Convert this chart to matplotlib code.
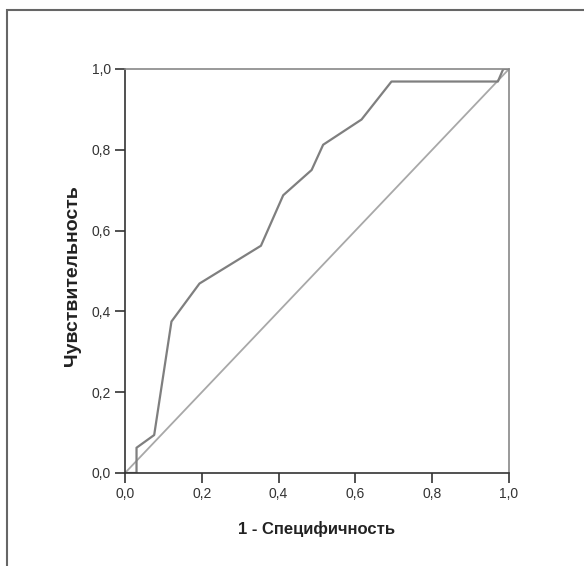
import matplotlib
matplotlib.use("Agg")
import matplotlib.pyplot as plt
from matplotlib.patches import Rectangle
from matplotlib.ticker import FuncFormatter

plt.rcParams['font.family'] = ['Liberation Sans', 'DejaVu Sans']

# ROC curve
fpr = [0.0, 0.030, 0.030, 0.076, 0.121, 0.194, 0.354, 0.412, 0.486, 0.516, 0.616, 0.694, 0.971, 0.985, 1.0]
tpr = [0.0, 0.0, 0.0625, 0.094, 0.375, 0.469, 0.5625, 0.6875, 0.75, 0.8125, 0.875, 0.969, 0.969, 1.0, 1.0]
ref_line = [0.0, 1.0]
ticks = [0.0, 0.2, 0.4, 0.6, 0.8, 1.0]

fig = plt.figure(figsize=(5.84, 5.66), dpi=100)
ax = fig.add_axes([125/584, 93/566, 384/584, 404/566])

# outer frame (runs off the right and bottom edges)
fig.patches.append(Rectangle((7/584, -0.05), 1.2, 1 - 10/566 + 0.05,
                             transform=fig.transFigure, fill=False,
                             edgecolor='#666666', linewidth=1.5))

ax.plot(ref_line, ref_line, color='#a8a8a8', linewidth=1.3)
ax.plot(fpr, tpr, color='#7f7f7f', linewidth=1.6)

ax.set_xlim(0, 1)
ax.set_ylim(0, 1)
ax.set_xticks(ticks)
ax.set_yticks(ticks)
fmt = FuncFormatter(lambda v, p: ('%.1f' % v).replace('.', ','))
ax.xaxis.set_major_formatter(fmt)
ax.yaxis.set_major_formatter(fmt)
ax.tick_params(direction='out', length=7, width=1.2, color='#333333',
               labelsize=10, labelcolor='#333333', pad=3)

for s in ['left', 'bottom']:
    ax.spines[s].set_color('#333333')
    ax.spines[s].set_linewidth(1.2)
for s in ['top', 'right']:
    ax.spines[s].set_color('#888888')
    ax.spines[s].set_linewidth(1.2)

ax.set_xlabel('1 - Специфичность', fontsize=12, fontweight='bold', color='#222222')
ax.set_ylabel('Чувствительность', fontsize=14, fontweight='bold', color='#222222')
ax.xaxis.set_label_coords(0.5, -0.118)
ax.yaxis.set_label_coords(-0.115, 0.488)

fig.savefig('out.png', dpi=100)
